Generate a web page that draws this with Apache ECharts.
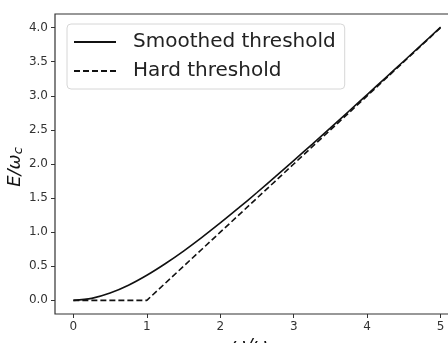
<!DOCTYPE html>
<html>
<head>
<meta charset="utf-8">
<script src="https://cdn.jsdelivr.net/npm/echarts@6/dist/echarts.min.js"></script>
<style>
  html, body { margin: 0; padding: 0; background: #fff; }
  #chart { width: 448px; height: 343px; }
</style>
</head>
<body>
<div id="chart"></div>
<script>
// omega / omega_c
var xs = [0, 0.25, 0.5, 0.75, 1, 1.25, 1.5, 1.75, 2, 2.25, 2.5, 2.75, 3, 3.25, 3.5, 3.75, 4, 4.25, 4.5, 4.75, 5];
// E / omega_c
var smoothVals = [0, 0.029, 0.107, 0.222, 0.368, 0.537, 0.723, 0.924, 1.135, 1.355, 1.582, 1.814, 2.05, 2.289, 2.53, 2.774, 3.018, 3.264, 3.511, 3.759, 4.007];
var hardVals = [0, 0, 0, 0, 0, 0.25, 0.5, 0.75, 1, 1.25, 1.5, 1.75, 2, 2.25, 2.5, 2.75, 3, 3.25, 3.5, 3.75, 4];
var xTicks = [0, 1, 2, 3, 4, 5];
var yTicks = [0, 0.5, 1, 1.5, 2, 2.5, 3, 3.5, 4];

function pairs(v) {
    var out = [];
    for (var i = 0; i < xs.length; i++) {
        out.push([xs[i], v[i]]);
    }
    return out;
}

var tickFont = { fontFamily: 'DejaVu Sans', fontSize: 12, color: '#333' };

var myChart = echarts.init(document.getElementById('chart'));
var option = {
    animation: false,
    grid: {
        left: 55, top: 14, width: 404, height: 300,
        outerBoundsMode: 'none',
        containLabel: false,
        show: true, borderColor: '#333', borderWidth: 1.2, backgroundColor: 'transparent'
    },
    legend: {
        orient: 'vertical',
        left: 67, top: 24,
        padding: [8, 9, 8, 6],
        itemWidth: 42,
        itemHeight: 14,
        itemGap: 9,
        backgroundColor: 'rgba(255,255,255,0.85)',
        borderColor: '#d6d6d6',
        borderWidth: 1,
        borderRadius: 4,
        itemStyle: { opacity: 0 },
        textStyle: { fontFamily: 'DejaVu Sans', fontSize: 20, color: '#222', padding: [0, 0, 0, 12] },
        data: ['Smoothed threshold', 'Hard threshold']
    },
    xAxis: {
        type: 'value',
        min: -0.25, max: 5.25,
        splitLine: { show: false },
        axisLine: { show: false, onZero: false },
        axisTick: { show: true, length: 4, customValues: xTicks, lineStyle: { color: '#333' } },
        axisLabel: Object.assign({ customValues: xTicks, margin: 7 }, tickFont)
    },
    yAxis: {
        type: 'value',
        min: -0.2, max: 4.2,
        splitLine: { show: false },
        axisLine: { show: false, onZero: false },
        axisTick: { show: true, length: 4, customValues: yTicks, lineStyle: { color: '#333' } },
        axisLabel: Object.assign({
            customValues: yTicks, margin: 7,
            formatter: function (v) { return v.toFixed(1); }
        }, tickFont)
    },
    graphic: [
        {
            type: 'text', x: 15, y: 167, rotation: Math.PI / 2,
            style: {
                text: '{m|E/ω}{s|c}',
                align: 'center', verticalAlign: 'middle',
                rich: {
                    m: { fontFamily: 'DejaVu Sans', fontStyle: 'italic', fontSize: 18, fill: '#111' },
                    s: { fontFamily: 'DejaVu Sans', fontStyle: 'italic', fontSize: 13, fill: '#111', padding: [8, 0, 0, 0] }
                }
            }
        },
        {
            type: 'text', x: 253, y: 336,
            style: {
                text: '{m|ω/ω}{s|c}',
                align: 'center', verticalAlign: 'top',
                rich: {
                    m: { fontFamily: 'DejaVu Sans', fontStyle: 'italic', fontSize: 18, fill: '#111' },
                    s: { fontFamily: 'DejaVu Sans', fontStyle: 'italic', fontSize: 13, fill: '#111', padding: [8, 0, 0, 0] }
                }
            }
        }
    ],
    series: [
        {
            name: 'Smoothed threshold',
            type: 'line',
            smooth: 0.3,
            showSymbol: false,
            symbol: 'none',
            lineStyle: { color: '#111', width: 1.6, type: 'solid' },
            itemStyle: { color: '#111' },
            data: pairs(smoothVals)
        },
        {
            name: 'Hard threshold',
            type: 'line',
            showSymbol: false,
            symbol: 'none',
            lineStyle: { color: '#111', width: 1.6, type: [6, 3] },
            itemStyle: { color: '#111' },
            data: pairs(hardVals)
        }
    ]
};
myChart.setOption(option);
</script>
</body>
</html>
